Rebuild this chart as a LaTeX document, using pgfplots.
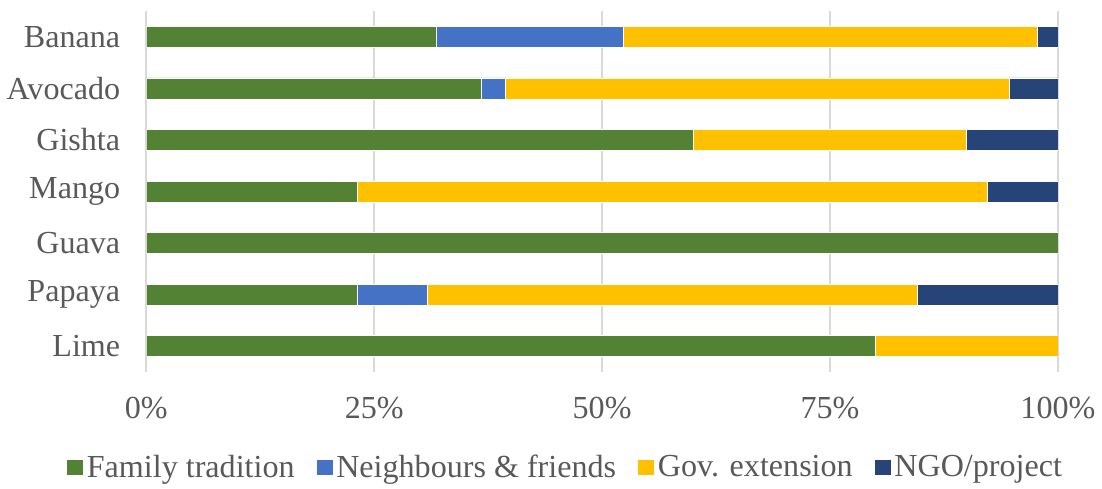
\documentclass[border=0pt]{standalone}
\usepackage{pgfplots}
\pgfplotsset{compat=1.18}
\usepackage{fontspec}
\setmainfont{Liberation Serif}

\definecolor{famgreen}{HTML}{548235}
\definecolor{neiblue}{HTML}{4472C4}
\definecolor{govyellow}{HTML}{FFC000}
\definecolor{ngonavy}{HTML}{264478}
\definecolor{txtgray}{HTML}{595959}
\definecolor{gridgray}{HTML}{D9D9D9}

\begin{document}
\begin{tikzpicture}
\begin{axis}[
    scale only axis,
    width=454.5pt, height=180pt,
    xbar stacked,
    bar width=10.5pt,
    xmin=0, xmax=100,
    ymin=-0.5, ymax=6.5,
    axis line style={draw=none},
    major tick length=0pt,
    xmajorgrids,
    grid style={gridgray, line width=1pt},
    xtick={0,25,50,75,100},
    xticklabels={0\%,25\%,50\%,75\%,100\%},
    ytick={0,1,2,3,4,5,6},
    yticklabels={Lime,Papaya,Guava,Mango,Gishta,Avocado,Banana},
    tick label style={font=\fontsize{16}{18}\selectfont, text=txtgray},
    xticklabel style={yshift=-9pt},
    yticklabel style={xshift=-9.5pt},
    legend style={at={(0.46,-0.265)}, anchor=center, draw=none,
        font=\fontsize{16}{18}\selectfont, text=txtgray,
        legend columns=-1,
        nodes={inner xsep=1.5pt},
        /tikz/every even column/.append style={column sep=9pt}},
    legend image code/.code={\fill[#1] (0pt,-4pt) rectangle (8.5pt,4pt);},
    every axis plot/.append style={draw=white, line width=0.3pt},
]
\addplot[fill=famgreen] coordinates {(80,0) (23.1,1) (100,2) (23.1,3) (60,4) (36.8,5) (31.8,6)};
\addplot[fill=neiblue] coordinates {(0,0) (7.7,1) (0,2) (0,3) (0,4) (2.6,5) (20.5,6)};
\addplot[fill=govyellow] coordinates {(20,0) (53.8,1) (0,2) (69.2,3) (30,4) (55.3,5) (45.4,6)};
\addplot[fill=ngonavy] coordinates {(0,0) (15.4,1) (0,2) (7.7,3) (10,4) (5.3,5) (2.3,6)};
\legend{Family tradition, Neighbours \& friends, Gov. extension, NGO/project}
\end{axis}
\path (current bounding box.north) ++(0,5pt);
\end{tikzpicture}
\end{document}
